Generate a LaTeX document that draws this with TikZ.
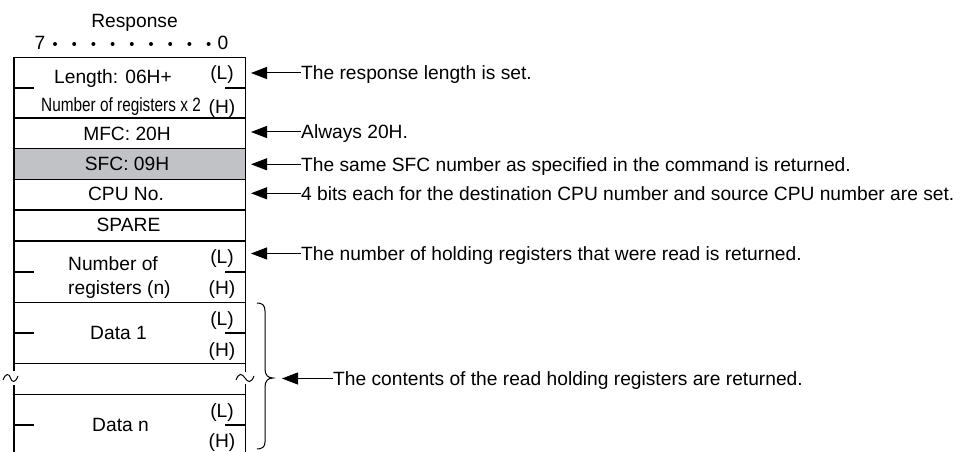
\documentclass[tikz,border=0pt]{standalone}
\usepackage{fontspec}
\setmainfont{Liberation Sans}
\usetikzlibrary{arrows.meta}
\definecolor{sfcgray}{RGB}{193,194,197}
\begin{document}
\begin{tikzpicture}[x=1bp,y=-1bp,
  every node/.style={font=\fontsize{19.2bp}{22bp}\selectfont},
  t/.style={inner sep=0pt, text height=13.7bp, text depth=0pt},
  boxline/.style={line width=1.2bp, black},
  arr/.style={line width=1bp, -{Triangle[length=16bp,width=12bp]}},
  note/.style={t, anchor=west}]
\useasboundingbox (0,0) rectangle (960,452);
% shaded SFC row
\fill[sfcgray] (14,148.5) rectangle (245.5,179.5);
% verticals
\draw[boxline] (14,57.5) -- (14,371);
\draw[boxline] (14,385) -- (14,452);
\draw[boxline] (245.5,57.5) -- (245.5,372);
\draw[boxline] (245.5,384) -- (245.5,452);
% full horizontals
\foreach \yy in {57.5,118,148.5,179.5,210,241,302.5,363.5,394.5}
  \draw[boxline] (14,\yy) -- (245.5,\yy);
% stubs
\foreach \yy in {88,272,333,425} {
  \draw[boxline] (14,\yy) -- (34.3,\yy);
  \draw[boxline] (225,\yy) -- (245.5,\yy);
}
% tildes
\draw[line width=1bp] (3,380) .. controls (6,372.5) and (9,373.5) .. (10.5,378) .. controls (12,382.5) and (15,383.5) .. (18,376);
\draw[line width=1bp] (236,380) .. controls (239,372.5) and (242,373.5) .. (245,378) .. controls (248,382.5) and (251,383.5) .. (254,376);
% brace
\draw[line width=1bp] (257,303) .. controls (262,303) and (265,305) .. (265,311)
  -- (265,369) .. controls (265,375) and (268,378) .. (273,378)
  .. controls (268,378) and (265,381) .. (265,387)
  -- (265,442) .. controls (265,447) and (262,449) .. (257,449);
% header
\node[t] (resp) at (134.5,21) {Response};
\node[t] (b7) at (40,43) {7};
\node[t] (b0) at (223,43) {0};
\foreach \xx in {55,74.2,93.4,112.6,131.8,151,170.2,189.4,208.6}
  \fill (\xx,44) circle (2bp);
% box contents
\node[t] (len) at (113,76.5) {Length: 06H+};
\node[t] (lenL) at (222,73) {(L)};
\node[t] (nreg) at (121,104.5) {\scalebox{0.8}[1]{Number of registers x 2}};
\node[t] (lenH) at (222,107) {(H)};
\node[t] (mfc) at (127,133.3) {MFC: 20H};
\node[t] (sfc) at (127,163.5) {SFC: 09H};
\node[t] (cpu) at (126,193.5) {CPU No.};
\node[t] (spare) at (128.5,225) {SPARE};
\node[t,anchor=west] (num1) at (68,263.3) {Number of};
\node[t,anchor=west] (num2) at (68,288) {registers (n)};
\node[t] (numL) at (222,256.7) {(L)};
\node[t] (numH) at (222,288) {(H)};
\node[t] (d1) at (118.5,333) {Data 1};
\node[t] (d1L) at (222,319) {(L)};
\node[t] (d1H) at (222,349.5) {(H)};
\node[t] (dn) at (120.5,425) {Data n};
\node[t] (dnL) at (222,411) {(L)};
\node[t] (dnH) at (222,441) {(H)};
% notes and arrows
\coordinate (p1) at (251,73);
\coordinate (p2) at (251,132);
\coordinate (p3) at (251,164.3);
\coordinate (p4) at (251,193.3);
\coordinate (p5) at (251,253.5);
\coordinate (p6) at (282,378.5);
\node[note] (n1) at (301,73) {The response length is set.};
\node[note] (n2) at (301,132) {Always 20H.};
\node[note] (n3) at (301,164.3) {The same SFC number as specified in the command is returned.};
\node[note] (n4) at (301,193.3) {4 bits each for the destination CPU number and source CPU number are set.};
\node[note] (n5) at (301,253.5) {The number of holding registers that were read is returned.};
\node[note] (n6) at (333,378.5) {The contents of the read holding registers are returned.};
\foreach \i in {1,...,6}
  \draw[arr] (n\i.west) -- (p\i);
\end{tikzpicture}
\end{document}
